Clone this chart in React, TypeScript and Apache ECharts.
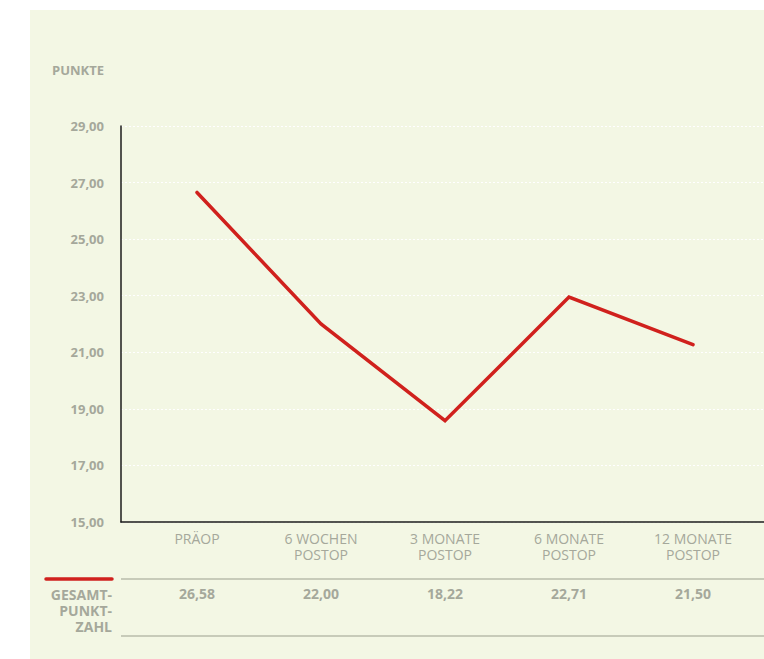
import React, { useEffect, useRef } from "react";
import * as echarts from "echarts";

const categories = ["PRÄOP", "6 WOCHEN\nPOSTOP", "3 MONATE\nPOSTOP", "6 MONATE\nPOSTOP", "12 MONATE\nPOSTOP"];
const lineValues = [26.65, 22.0, 18.58, 22.95, 21.27];
const tableValues = ["26,58", "22,00", "18,22", "22,71", "21,50"];
const yTicks = { min: 15, max: 29, interval: 2 };
const yAxisName = "PUNKTE";
const rowHeader = "GESAMT-\nPUNKT-\nZAHL";

const BG = "#f3f7e4";
const GRAY = "#a5a89b";
const RED = "#d0211d";
const FONT = "'Open Sans', 'DejaVu Sans', sans-serif";

export default function App() {
  const ref = useRef<HTMLDivElement>(null);
  useEffect(() => {
    document.body.style.margin = "0";
    const chart = echarts.init(ref.current!, null, { renderer: "svg" });
    chart.setOption({
      animation: false,
      backgroundColor: "#ffffff",
      textStyle: { fontFamily: FONT },
      grid: [
        { left: 135, right: 9, top: 126, bottom: 137 },
        { left: 121, right: 0, top: 126, bottom: 137 },
      ],
      xAxis: [
        {
          type: "category",
          gridIndex: 0,
          data: categories,
          boundaryGap: true,
          axisLine: { show: false },
          axisTick: { show: false },
          splitLine: { show: false },
          axisLabel: {
            color: GRAY,
            fontSize: 14,
            lineHeight: 16,
            margin: 8,
            fontFamily: FONT,
            interval: 0,
          },
        },
        {
          type: "category",
          gridIndex: 0,
          position: "bottom",
          offset: 57,
          data: tableValues,
          boundaryGap: true,
          axisLine: { show: false },
          axisTick: { show: false },
          splitLine: { show: false },
          axisLabel: {
            color: GRAY,
            fontSize: 14,
            fontWeight: "bold",
            margin: 7,
            fontFamily: FONT,
            interval: 0,
          },
        },
        {
          type: "value",
          gridIndex: 1,
          min: 0,
          max: 1,
          axisLine: { show: true, lineStyle: { color: "#1c1c1c", width: 1.5 } },
          axisTick: { show: false },
          axisLabel: { show: false },
          splitLine: { show: false },
        },
      ],
      yAxis: [
        {
          type: "value",
          gridIndex: 1,
          min: yTicks.min,
          max: yTicks.max,
          interval: yTicks.interval,
          name: yAxisName,
          nameLocation: "end",
          nameGap: 56,
          nameTextStyle: {
            color: GRAY,
            fontSize: 13,
            fontWeight: "bold",
            align: "right",
            verticalAlign: "middle",
            padding: [0, 17, 0, 0],
            fontFamily: FONT,
          },
          axisLine: { show: true, lineStyle: { color: "#1c1c1c", width: 1.5 } },
          axisTick: { show: false },
          axisLabel: {
            color: GRAY,
            fontSize: 13,
            fontWeight: "bold",
            margin: 17,
            fontFamily: FONT,
            formatter: (v: number) => v.toFixed(2).replace(".", ","),
          },
          splitLine: { show: true, lineStyle: { color: "#ffffff", type: [2, 2], width: 1 } },
        },
        {
          type: "value",
          gridIndex: 0,
          min: yTicks.min,
          max: yTicks.max,
          interval: yTicks.interval,
          show: false,
          splitLine: { show: false },
        },
      ],
      graphic: [
        {
          type: "rect",
          z: -10,
          silent: true,
          shape: { x: 30, y: 10, width: 734, height: 649 },
          style: { fill: BG },
        },
        {
          type: "line",
          silent: true,
          shape: { x1: 121, y1: 579, x2: 764, y2: 579 },
          style: { stroke: "#b9bcab", lineWidth: 1.5 },
        },
        {
          type: "line",
          silent: true,
          shape: { x1: 121, y1: 636, x2: 764, y2: 636 },
          style: { stroke: "#b9bcab", lineWidth: 1.5 },
        },
        {
          type: "line",
          silent: true,
          shape: { x1: 46, y1: 579, x2: 112, y2: 579 },
          style: { stroke: RED, lineWidth: 3.5, lineCap: "round" },
        },
        {
          type: "text",
          silent: true,
          x: 112,
          y: 586,
          style: {
            text: rowHeader,
            fill: GRAY,
            font: `bold 14px ${FONT}`,
            lineHeight: 16,
            align: "right",
            verticalAlign: "top",
          },
        },
      ],
      series: [
        {
          type: "line",
          xAxisIndex: 0,
          yAxisIndex: 1,
          data: lineValues,
          symbol: "none",
          lineStyle: { color: RED, width: 3.5, cap: "round", join: "miter" },
        },
      ],
    });
    return () => chart.dispose();
  }, []);
  return <div ref={ref} style={{ width: 764, height: 659 }} />;
}
